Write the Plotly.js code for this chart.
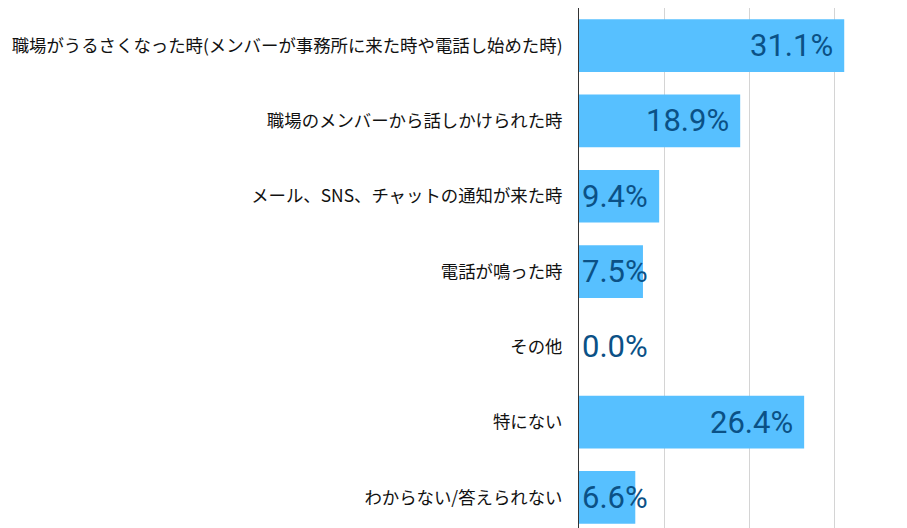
<!DOCTYPE html>
<html>
<head>
<meta charset="utf-8">
<script src="https://cdn.plot.ly/plotly-3.0.1.min.js"></script>
<style>html,body{margin:0;padding:0;background:#fff;}#chart{width:907px;height:528px;}</style>
</head>
<body>
<div id="chart"></div>
<script>
const categories = [
  "職場がうるさくなった時(メンバーが事務所に来た時や電話し始めた時)",
  "職場のメンバーから話しかけられた時",
  "メール、SNS、チャットの通知が来た時",
  "電話が鳴った時",
  "その他",
  "特にない",
  "わからない/答えられない"
];
const values = [31.1, 18.9, 9.4, 7.5, 0.0, 26.4, 6.6];
const labels = values.map(v => v.toFixed(1) + "%");

const insideMin = 10; // bars narrower than this get their label from the axis
const annotations = values.map((v, i) => {
  const inside = v >= insideMin;
  return {
    x: inside ? v : 0,
    y: categories[i],
    xref: "x", yref: "y",
    text: labels[i],
    showarrow: false,
    xanchor: inside ? "right" : "left",
    xshift: inside ? -9 : 1,
    yanchor: "middle",
    font: {family: "Roboto, sans-serif", size: 31, color: "#0b5186"}
  };
});

const trace = {
  type: "bar",
  orientation: "h",
  x: values,
  y: categories,
  marker: {color: "#57c0ff"},
  hoverinfo: "none"
};

const layout = {
  width: 907, height: 528,
  margin: {l: 579, r: 0, t: 8, b: 0, pad: 0},
  paper_bgcolor: "#fff", plot_bgcolor: "#fff",
  bargap: 0.3,
  showlegend: false,
  xaxis: {
    range: [0, 38.46],
    dtick: 10, tick0: 0,
    showgrid: true, gridcolor: "#d4d4d4", gridwidth: 1,
    zeroline: false,
    showticklabels: false,
    ticks: "",
    fixedrange: true
  },
  yaxis: {
    type: "category",
    categoryorder: "array", categoryarray: categories,
    range: [6.406, -0.5],
    showgrid: false,
    showline: true, linecolor: "#333", linewidth: 1,
    ticks: "",
    ticklabelstandoff: 12,
    tickfont: {family: "'Noto Sans CJK JP', sans-serif", size: 17.4, color: "#111"},
    fixedrange: true
  },
  annotations: annotations
};

Plotly.newPlot("chart", [trace], layout, {displayModeBar: false, staticPlot: true});
</script>
</body>
</html>
